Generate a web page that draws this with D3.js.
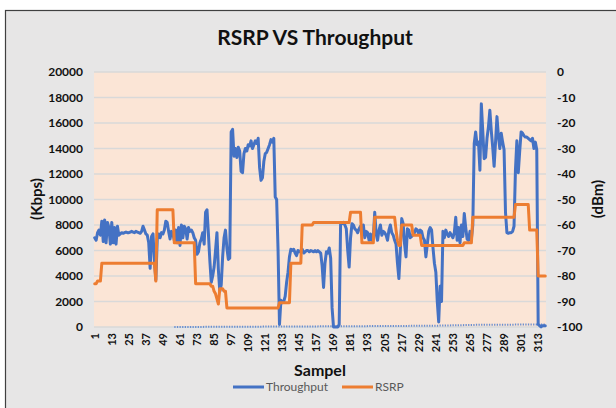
<!DOCTYPE html>
<html>
<head>
<meta charset="utf-8">
<script src="https://cdn.jsdelivr.net/npm/d3@7"></script>
<style>
  body { margin: 0; background: #fff; }
  text { font-family: Lato, "Open Sans", sans-serif; }
</style>
</head>
<body>
<div id="chart-area"></div>
<script>
// sample numbers on the x axis (1 .. 318)
var samples = d3.range(1, 319);
var xTickLabels = [1, 13, 25, 37, 49, 61, 73, 85, 97, 109, 121, 133, 145, 157, 169,
	181, 193, 205, 217, 229, 241, 253, 265, 277, 289, 301, 313];
var leftTicks = [0, 2000, 4000, 6000, 8000, 10000, 12000, 14000, 16000, 18000, 20000];
var rightTicks = [0, -10, -20, -30, -40, -50, -60, -70, -80, -90, -100];

// Throughput (Kbps), one value per sample, rows of 12
var throughput = [
	7000, 6800, 7400, 7600, 7200, 8300, 6700, 8400, 6600, 8200, 7800, 6500,
	8200, 6600, 7800, 6500, 7900, 7200, 7300, 7400, 7350, 7400, 7450, 7400,
	7400, 7450, 7500, 7450, 7400, 7500, 7450, 7400, 7350, 7500, 7900, 7600,
	7300, 7200, 6600, 4600, 7100, 7300, 5200, 3700, 6900, 7300, 7000, 7400,
	7300, 7600, 8300, 8200, 7500, 6900, 7500, 7300, 6800, 7600, 6600, 7800,
	6400, 8000, 7000, 7900, 7700, 6900, 7800, 7500, 7600, 7400, 7000, 6800,
	5700, 5900, 6600, 6900, 7400, 6500, 9000, 9200, 7300, 5200, 3500, 4000,
	4700, 6000, 7400, 4500, 2800, 3300, 5500, 7000, 7600, 6200, 5300, 5400,
	15300, 15500, 13400, 14000, 13300, 14100, 13800, 12200, 12100, 13600, 14000, 13800,
	14300, 14200, 14600, 14000, 14300, 14600, 14400, 14800, 12500, 11500, 11700, 13000,
	13600, 13700, 14000, 14300, 14700, 14500, 14800, 10200, 10000, 6000, 200, 2100,
	1900, 2000, 2400, 3500, 4300, 5500, 6100, 6000, 6100, 5800, 5600, 6000,
	5900, 6000, 6100, 5800, 5900, 6000, 6000, 5900, 6000, 5950, 5900, 6000,
	5900, 6000, 5900, 5800, 4800, 3100, 5000, 5900, 5800, 6200, 5400, 1500,
	0, 0, 0, 0, 200, 8200, 8100, 8200, 8000, 7700, 6000, 4700,
	7000, 8100, 8000, 7700, 7600, 7400, 7700, 7900, 7400, 8000, 7000, 7500,
	7400, 6800, 7300, 6800, 7000, 9000, 7300, 6800, 7600, 8000, 7200, 7500,
	7400, 7200, 6800, 7600, 8000, 7400, 7200, 6800, 6500, 5000, 3800, 6000,
	8500, 8100, 6500, 5500, 7700, 7600, 7000, 7100, 7300, 7400, 7700, 7600,
	7300, 7600, 7500, 7000, 6800, 5500, 6500, 7500, 7800, 7600, 6200, 5000,
	4300, 2000, 400, 3200, 2000, 7500, 7000, 7600, 7300, 7100, 7400, 7200,
	7000, 7400, 8600, 6800, 7800, 6600, 8000, 7100, 8900, 7800, 6900, 6800,
	7500, 6900, 8000, 14400, 15300, 14300, 14500, 12300, 17500, 15400, 13200, 13300,
	14800, 15700, 17000, 15400, 14100, 12600, 14500, 16500, 15000, 14000, 15200, 14500,
	13900, 9000, 7400, 7350, 7400, 7400, 7500, 7900, 12300, 14600, 12100, 13800,
	15300, 15200, 15000, 14900, 14900, 14800, 14700, 14600, 14800, 14000, 14500, 13900,
	200, 100, 0, 100, 100, 100
];

// RSRP (dBm), one value per sample, rows of 12
var rsrp = [
	-83, -83, -82, -82, -82, -75, -75, -75, -75, -75, -75, -75,
	-75, -75, -75, -75, -75, -75, -75, -75, -75, -75, -75, -75,
	-75, -75, -75, -75, -75, -75, -75, -75, -75, -75, -75, -75,
	-75, -75, -75, -75, -75, -75, -75, -82, -54, -54, -54, -54,
	-54, -54, -54, -54, -54, -54, -54, -54, -67, -67, -67, -67,
	-67, -67, -67, -67, -67, -67, -67, -67, -67, -67, -67, -83,
	-83, -83, -83, -83, -83, -83, -83, -83, -83, -83, -84, -84,
	-86, -87, -89, -91, -85, -85, -85, -86, -86, -92.5, -92.5, -92.5,
	-92.5, -92.5, -92.5, -92.5, -92.5, -92.5, -92.5, -92.5, -92.5, -92.5, -92.5, -92.5,
	-92.5, -92.5, -92.5, -92.5, -92.5, -92.5, -92.5, -92.5, -92.5, -92.5, -92.5, -92.5,
	-92.5, -92.5, -92.5, -92.5, -92.5, -92.5, -92.5, -92.5, -92.5, -92.5, -90.5, -90.5,
	-90.5, -90.5, -90.5, -90.5, -90.5, -90.5, -75, -75, -75, -75, -75, -75,
	-75, -75, -60, -60, -60, -60, -60, -60, -60, -60, -59, -59,
	-59, -59, -59, -59, -59, -59, -59, -59, -59, -59, -59, -59,
	-59, -59, -59, -59, -59, -59, -59, -59, -59, -59, -59, -59,
	-55, -55, -55, -55, -55, -55, -55, -55, -67, -67, -67, -67,
	-67, -67, -67, -67, -67, -57, -57, -57, -57, -57, -57, -57,
	-57, -57, -57, -57, -57, -57, -57, -57, -62, -66, -68, -68,
	-60, -60, -60, -60, -60, -60, -60, -60, -64, -64, -64, -64,
	-64, -64, -68, -68, -68, -68, -68, -68, -68, -68, -68, -68,
	-68, -68, -68, -68, -68, -68, -68, -68, -68, -68, -68, -68,
	-68, -68, -68, -68, -68, -68, -68, -68, -67, -67, -67, -67,
	-67, -67, -57, -57, -57, -57, -57, -57, -57, -57, -57, -57,
	-57, -57, -57, -57, -57, -57, -57, -57, -57, -57, -57, -57,
	-57, -57, -57, -57, -57, -57, -57, -57, -52, -52, -52, -52,
	-52, -52, -52, -52, -52, -52, -62, -62, -62, -62, -62, -62,
	-80, -80, -80, -80, -80, -80
];

// faint dotted series along the bottom
var dotSamples = [57, 120, 180, 240, 270, 318];
var dotValues = [0, 30, 60, 100, 170, 200];

var W = 616, H = 408;
var plot = {left: 94, right: 546, top: 72, bottom: 327};

var svg = d3.select("#chart-area")
	.append("svg")
		.attr("width", W)
		.attr("height", H);

// chart background with border
svg.append("rect")
	.attr("x", 5.5)
	.attr("y", 10.5)
	.attr("width", W + 20)
	.attr("height", H + 20)
	.attr("fill", "#E7E6E6")
	.attr("stroke", "#404040")
	.attr("stroke-width", 1.2);

// plot area
svg.append("rect")
	.attr("x", plot.left)
	.attr("y", plot.top)
	.attr("width", plot.right - plot.left)
	.attr("height", plot.bottom - plot.top)
	.attr("fill", "#FBE5D6");

var x = d3.scaleBand()
	.domain(samples)
	.range([plot.left, plot.right]);

function xc(s) { return x(s) + x.bandwidth() / 2; }

var yL = d3.scaleLinear()
	.domain([0, 20000])
	.range([plot.bottom, plot.top]);

var yR = d3.scaleLinear()
	.domain([-100, 0])
	.range([plot.bottom, plot.top]);

// gridlines
svg.selectAll(".grid")
	.data(leftTicks)
	.enter()
	.append("line")
		.attr("class", "grid")
		.attr("x1", plot.left)
		.attr("x2", plot.right)
		.attr("y1", function(d){ return yL(d); })
		.attr("y2", function(d){ return yL(d); })
		.attr("stroke", "#D9D9D9")
		.attr("stroke-width", 1.3);

// left axis labels
svg.selectAll(".ltick")
	.data(leftTicks)
	.enter()
	.append("text")
		.attr("class", "ltick")
		.attr("x", 83)
		.attr("y", function(d){ return yL(d); })
		.attr("dy", "0.35em")
		.attr("text-anchor", "end")
		.attr("font-size", "12px")
		.attr("font-weight", "bold")
		.attr("fill", "#111")
		.text(function(d){ return d; });

// right axis labels
svg.selectAll(".rtick")
	.data(rightTicks)
	.enter()
	.append("text")
		.attr("class", "rtick")
		.attr("x", 557)
		.attr("y", function(d){ return yR(d); })
		.attr("dy", "0.35em")
		.attr("text-anchor", "start")
		.attr("font-size", "12px")
		.attr("font-weight", "bold")
		.attr("fill", "#111")
		.text(function(d){ return d; });

// x axis labels (rotated)
svg.selectAll(".xtick")
	.data(xTickLabels)
	.enter()
	.append("text")
		.attr("class", "xtick")
		.attr("transform", function(d){ return "translate(" + xc(d) + ",333) rotate(-90)"; })
		.attr("dy", "0.35em")
		.attr("text-anchor", "end")
		.attr("font-size", "11px")
		.attr("font-weight", "bold")
		.attr("fill", "#111")
		.text(function(d){ return d; });

// dotted faint series
var dotLine = d3.line()
	.x(function(d, i){ return xc(dotSamples[i]); })
	.y(function(d){ return yL(d); });

svg.append("path")
	.datum(dotValues)
	.attr("d", dotLine)
	.attr("fill", "none")
	.attr("stroke", "#6A8FD0")
	.attr("stroke-width", 2)
	.attr("stroke-dasharray", "1.3,1.3");

// throughput line
var tLine = d3.line()
	.x(function(d, i){ return xc(samples[i]); })
	.y(function(d){ return yL(d); });

svg.append("path")
	.datum(throughput)
	.attr("d", tLine)
	.attr("fill", "none")
	.attr("stroke", "#4472C4")
	.attr("stroke-width", 3)
	.attr("stroke-linejoin", "round")
	.attr("stroke-linecap", "round");

// rsrp line
var rLine = d3.line()
	.x(function(d, i){ return xc(samples[i]); })
	.y(function(d){ return yR(d); });

svg.append("path")
	.datum(rsrp)
	.attr("d", rLine)
	.attr("fill", "none")
	.attr("stroke", "#ED7D31")
	.attr("stroke-width", 3)
	.attr("stroke-linejoin", "round")
	.attr("stroke-linecap", "round");

// titles
svg.append("text")
	.attr("x", 315)
	.attr("y", 45)
	.attr("text-anchor", "middle")
	.attr("font-size", "21px")
	.attr("font-weight", "bold")
	.attr("fill", "#111")
	.text("RSRP VS Throughput");

svg.append("text")
	.attr("x", 320)
	.attr("y", 376)
	.attr("text-anchor", "middle")
	.attr("font-size", "16px")
	.attr("font-weight", "bold")
	.attr("fill", "#111")
	.text("Sampel");

svg.append("text")
	.attr("transform", "translate(42,199) rotate(-90)")
	.attr("text-anchor", "middle")
	.attr("font-size", "15px")
	.attr("font-weight", "bold")
	.attr("fill", "#111")
	.text("(Kbps)");

svg.append("text")
	.attr("transform", "translate(603,199) rotate(-90)")
	.attr("text-anchor", "middle")
	.attr("font-size", "15px")
	.attr("font-weight", "bold")
	.attr("fill", "#111")
	.text("(dBm)");

// legend
var legend = [
	{name: "Throughput", color: "#4472C4", x: 233},
	{name: "RSRP", color: "#ED7D31", x: 342}
];

var lg = svg.selectAll(".legend")
	.data(legend)
	.enter()
	.append("g")
		.attr("class", "legend")
		.attr("transform", function(d){ return "translate(" + d.x + ",387)"; });

lg.append("line")
	.attr("x1", 0)
	.attr("x2", 31)
	.attr("stroke", function(d){ return d.color; })
	.attr("stroke-width", 3);

lg.append("text")
	.attr("x", 33)
	.attr("dy", "0.35em")
	.attr("font-size", "12px")
	.attr("fill", "#595959")
	.text(function(d){ return d.name; });
</script>
</body>
</html>
